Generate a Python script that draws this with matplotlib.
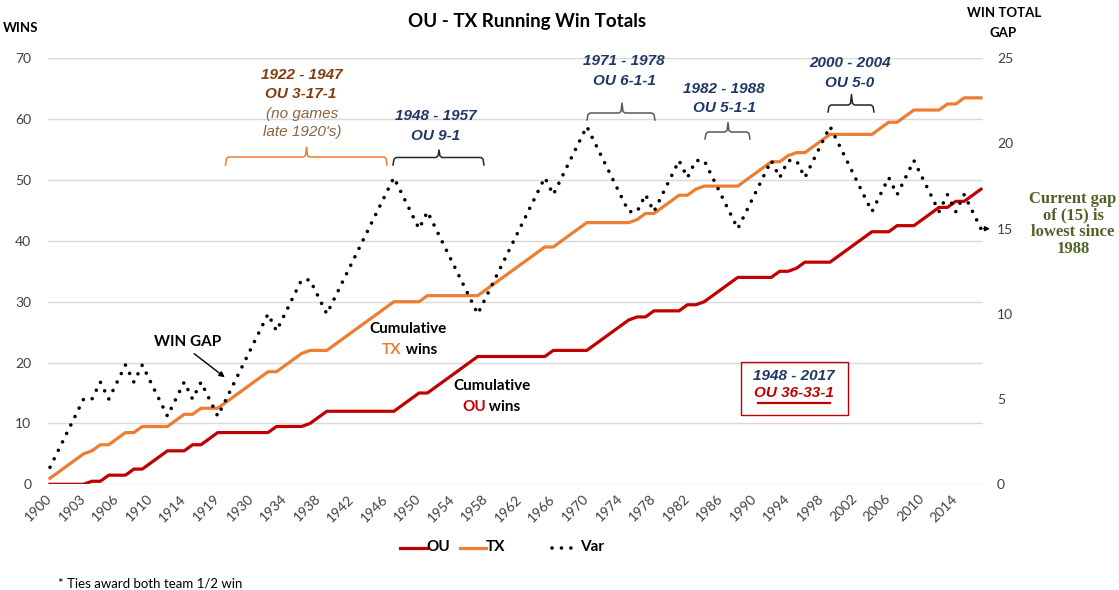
import matplotlib.pyplot as plt
from matplotlib.lines import Line2D
from matplotlib.patches import FancyArrowPatch, Rectangle
from matplotlib import font_manager
import numpy as np

W, H = 1119, 590

# one entry per game (1901 and 1903 had two games, no games late 1920's)
years = [1900, 1901, 1901, 1902, 1903, 1903, 1904, 1905, 1906, 1907, 1908, 1909,
         1910, 1911, 1912, 1913, 1914, 1915, 1916, 1917, 1919, 1922, 1923] + list(range(1929, 2018))

# running win totals (ties = 1/2 win each)
ou_wins = [0, 0, 0, 0, 0, 0.5, 0.5, 1.5, 1.5, 1.5, 2.5, 2.5,
           3.5, 4.5, 5.5, 5.5, 5.5, 6.5, 6.5, 7.5, 8.5,
           8.5, 8.5, 8.5, 8.5, 8.5, 8.5, 9.5, 9.5, 9.5, 9.5, 10, 11, 12,
           12, 12, 12, 12, 12, 12, 12, 12,
           13, 14, 15, 15, 16, 17, 18, 19, 20, 21,
           21, 21, 21, 21, 21, 21, 21, 21, 22, 22, 22, 22, 22,
           23, 24, 25, 26, 27, 27.5, 27.5, 28.5, 28.5, 28.5, 28.5, 29.5, 29.5, 30, 31, 32, 33, 34,
           34, 34, 34, 34, 35, 35, 35.5, 36.5, 36.5, 36.5, 36.5, 37.5, 38.5, 39.5, 40.5, 41.5,
           41.5, 41.5, 42.5, 42.5, 42.5, 43.5, 44.5, 45.5, 45.5, 46.5, 46.5, 47.5, 48.5]

tx_wins = [1, 2, 3, 4, 5, 5.5, 6.5, 6.5, 7.5, 8.5, 8.5, 9.5,
           9.5, 9.5, 9.5, 10.5, 11.5, 11.5, 12.5, 12.5, 12.5,
           13.5, 14.5, 15.5, 16.5, 17.5, 18.5, 18.5, 19.5, 20.5, 21.5, 22, 22, 22,
           23, 24, 25, 26, 27, 28, 29, 30,
           30, 30, 30, 31, 31, 31, 31, 31, 31, 31,
           32, 33, 34, 35, 36, 37, 38, 39, 39, 40, 41, 42, 43,
           43, 43, 43, 43, 43, 43.5, 44.5, 44.5, 45.5, 46.5, 47.5, 47.5, 48.5, 49, 49, 49, 49, 49,
           50, 51, 52, 53, 53, 54, 54.5, 54.5, 55.5, 56.5, 57.5, 57.5, 57.5, 57.5, 57.5, 57.5,
           58.5, 59.5, 59.5, 60.5, 61.5, 61.5, 61.5, 61.5, 62.5, 62.5, 63.5, 63.5, 63.5]

var_gap = [1, 2, 3, 4, 5, 5, 6, 5, 6, 7, 6, 7,
           6, 5, 4, 5, 6, 5, 6, 5, 4,
           5, 6, 7, 8, 9, 10, 9, 10, 11, 12, 12, 11, 10,
           11, 12, 13, 14, 15, 16, 17, 18,
           17, 16, 15, 16, 15, 14, 13, 12, 11, 10,
           11, 12, 13, 14, 15, 16, 17, 18, 17, 18, 19, 20, 21,
           20, 19, 18, 17, 16, 16, 17, 16, 17, 18, 19, 18, 19, 19, 18, 17, 16, 15,
           16, 17, 18, 19, 18, 19, 19, 18, 19, 20, 21, 20, 19, 18, 17, 16,
           17, 18, 17, 18, 19, 18, 17, 16, 17, 16, 17, 16, 15]

tick_years = ["1900", "1903", "1906", "1910", "1914", "1919", "1930", "1934", "1938",
              "1942", "1946", "1950", "1954", "1958", "1962", "1966", "1970", "1974",
              "1978", "1982", "1986", "1990", "1994", "1998", "2002", "2006", "2010", "2014"]

RED = '#C00000'
ORANGE = '#ED7D31'
NAVY = '#1F3864'
BROWN = '#843C0C'
GREY = '#404040'

plt.rcParams['font.family'] = ['Lato', 'DejaVu Sans']

names = {f.name for f in font_manager.fontManager.ttflist}
if 'Liberation Sans Narrow' in names:
    narrow = dict(family=['Liberation Sans Narrow', 'DejaVu Sans'], fontsize=12.5)
else:
    narrow = dict(family=['Liberation Sans', 'DejaVu Sans'], fontsize=11)


def fx(x):
    return x / W


def fy(y):
    return 1 - y / H


def ftext(x, y, s, **kw):
    kw.setdefault('ha', 'center')
    kw.setdefault('va', 'center')
    return fig.text(fx(x), fy(y), s, **kw)


def brace(x0, x1, xm, y, top, bottom, color):
    pts = [(x0, bottom), (x0 + 1, y + 1.5), (x0 + 3, y), (xm - 3, y), (xm - 1, y - 1.5),
           (xm, top), (xm + 1, y - 1.5), (xm + 3, y), (x1 - 3, y), (x1 - 1, y + 1.5), (x1, bottom)]
    xs = [fx(p[0]) for p in pts]
    ys = [fy(p[1]) for p in pts]
    fig.add_artist(Line2D(xs, ys, color=color, lw=1.1, transform=fig.transFigure))


fig = plt.figure(figsize=(W / 100, H / 100), dpi=100)
ax = fig.add_axes([fx(48), fy(484.3), (983 - 48) / W, (484.3 - 58.3) / H])
x = np.arange(len(years))

ax.plot(x, ou_wins, color=RED, lw=2.3, solid_joinstyle='round', zorder=3)
ax.plot(x, tx_wins, color=ORANGE, lw=2.3, solid_joinstyle='round', zorder=3)
ax.set_ylim(0, 70)
ax.set_xlim(-0.24, len(years) - 0.76)
ax.set_yticks(range(0, 71, 10))
ax.grid(axis='y', color='#D9D9D9', lw=1)
ax.set_axisbelow(True)
ax.set_xticks(x[::4])
ax.set_xticklabels(tick_years, rotation=45, ha='right', va='center', rotation_mode='anchor')
ax.tick_params(axis='x', length=0, pad=9, labelsize=10, labelcolor=GREY)
ax.tick_params(axis='y', length=0, pad=12, labelsize=10, labelcolor=GREY)

ax2 = ax.twinx()
ax2.plot(x, var_gap, color='black', lw=2.6, linestyle=(0, (0.01, 2.6)),
         dash_capstyle='round', zorder=4)
ax2.set_ylim(0, 25)
ax2.set_yticks(range(0, 26, 5))
ax2.tick_params(axis='y', length=0, pad=10, labelsize=10, labelcolor=GREY)
ax2.annotate('', xy=(len(years) + 0.4, var_gap[-1]), xytext=(len(years) - 1, var_gap[-1]),
             arrowprops=dict(arrowstyle='-|>', color='black', lw=1, mutation_scale=7),
             annotation_clip=False)

for a in (ax, ax2):
    for sp in a.spines.values():
        sp.set_visible(False)

# titles
ftext(527, 22, 'OU - TX Running Win Totals', fontsize=13.5, fontweight='bold')
ftext(21, 28, 'WINS', fontsize=9.5, fontweight='bold')
ftext(1004, 13, 'WIN TOTAL', fontsize=9.5, fontweight='bold')
ftext(1003, 33, 'GAP', fontsize=9.5, fontweight='bold')

# period annotations
ftext(302, 75, '1922 - 1947', color=BROWN, fontweight='bold', style='italic', **narrow)
ftext(301, 94, 'OU 3-17-1', color=BROWN, fontweight='bold', style='italic', **narrow)
ftext(302, 114, '(no games', color='#8B6340', style='italic', **narrow)
ftext(302, 132, "late 1920's)", color='#8B6340', style='italic', **narrow)
brace(225.5, 387, 306.5, 157, 147, 165, ORANGE)

ftext(436, 116, '1948 - 1957', color=NAVY, fontweight='bold', style='italic', **narrow)
ftext(436, 136, 'OU 9-1', color=NAVY, fontweight='bold', style='italic', **narrow)
brace(393, 484, 439, 157.5, 150, 165, '#262626')

ftext(624, 61, '1971 - 1978', color=NAVY, fontweight='bold', style='italic', **narrow)
ftext(624, 81, 'OU 6-1-1', color=NAVY, fontweight='bold', style='italic', **narrow)
brace(587, 655, 622, 113, 103, 120, '#595959')

ftext(724, 89, '1982 - 1988', color=NAVY, fontweight='bold', style='italic', **narrow)
ftext(724, 108, 'OU 5-1-1', color=NAVY, fontweight='bold', style='italic', **narrow)
brace(705, 750, 728, 132, 122.5, 139, '#595959')

ftext(850, 63, '2000 - 2004', color=NAVY, fontweight='bold', style='italic', **narrow)
ftext(850, 83, 'OU 5-0', color=NAVY, fontweight='bold', style='italic', **narrow)
brace(828, 874, 851.5, 105, 94.5, 112, '#262626')

# series call-outs
ftext(188, 342, 'WIN GAP', fontsize=11, fontweight='bold')
fig.add_artist(FancyArrowPatch((fx(192), fy(352)), (fx(227), fy(379)),
                               transform=fig.transFigure, arrowstyle='-|>',
                               mutation_scale=8, color='black', lw=1))

ftext(408, 329, 'Cumulative', fontsize=11, fontweight='bold')
ftext(392, 350, 'TX', fontsize=11, fontweight='bold', color=ORANGE)
ftext(402, 350, ' wins', fontsize=11, fontweight='bold', ha='left')
ftext(492, 386, 'Cumulative', fontsize=11, fontweight='bold')
ftext(474, 407, 'OU', fontsize=11, fontweight='bold', color=RED)
ftext(485, 407, ' wins', fontsize=11, fontweight='bold', ha='left')

# boxed record since 1948
fig.add_artist(Rectangle((fx(741), fy(415)), (848 - 741) / W, (415 - 362) / H,
                         transform=fig.transFigure, fill=False, ec=RED, lw=1))
ftext(794, 376, '1948 - 2017', color=NAVY, fontweight='bold', style='italic', **narrow)
ftext(794, 393, 'OU 36-33-1', color=RED, fontweight='bold', style='italic', **narrow)
fig.add_artist(Line2D([fx(758), fx(830)], [fy(403), fy(403)], color=RED, lw=1.6,
                      transform=fig.transFigure))

ftext(1073, 224, 'Current gap\nof (15) is\nlowest since\n1988', color='#4F6228',
      family=['Liberation Serif', 'DejaVu Serif'], fontweight='bold', fontsize=12, linespacing=1.05)

# legend
legend_items = [(400, 427, 438, 'OU', RED, '-'), (460, 486, 495, 'TX', ORANGE, '-'),
                (550, 577, 592, 'Var', 'black', ':')]
for x0, x1, xt, lab, col, ls in legend_items:
    if ls == '-':
        fig.add_artist(Line2D([fx(x0), fx(x1)], [fy(548), fy(548)], color=col, lw=2.3,
                              transform=fig.transFigure))
    else:
        fig.add_artist(Line2D([fx(x0 + 2), fx(x1)], [fy(548), fy(548)], color=col, lw=2.6,
                              linestyle=(0, (0.01, 2.6)), dash_capstyle='round',
                              transform=fig.transFigure))
    ftext(xt, 547, lab, fontsize=11, fontweight='bold')

ftext(58, 583, '* Ties award both team 1/2 win', fontsize=9.5, ha='left')

fig.savefig('out.png', dpi=100)
